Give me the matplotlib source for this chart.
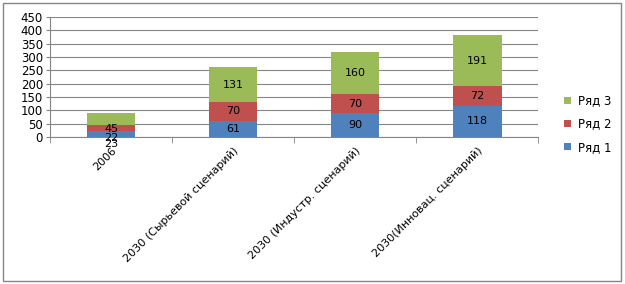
import numpy as np
import matplotlib
matplotlib.use('Agg')
import matplotlib.pyplot as plt
from matplotlib.patches import Rectangle

font = {'family': 'DejaVu Sans',
        'weight': 'normal',
        'size': 8}
matplotlib.rc('font', **font)

categories = ['2006',
              '2030 (Сырьевой сценарий)',
              '2030 (Индустр. сценарий)',
              '2030(Инновац. сценарий)']
row1 = [23, 61, 90, 118]
row2 = [22, 70, 70, 72]
row3 = [45, 131, 160, 191]
series_names = ['Ряд 1', 'Ряд 2', 'Ряд 3']
colors = ['#4F81BD', '#C0504D', '#9BBB59']

fig = plt.figure(figsize=(6.25, 2.84), dpi=100)
ax = fig.add_axes([0.08, 0.5176, 0.781, 0.4225])

x = np.arange(len(categories))
bottom = np.zeros(len(categories))
bars = []
for vals, name, col in zip([row1, row2, row3], series_names, colors):
    b = ax.bar(x, vals, width=0.4, bottom=bottom, color=col, label=name, zorder=3)
    bars.append(b)
    # value labels in the middle of each segment
    for i, v in enumerate(vals):
        yc = bottom[i] + v / 2
        dy = -7 if i == 0 else 0   # first bar: labels pushed down like the original
        ax.annotate(str(v), (x[i], yc), xytext=(0, dy), textcoords='offset points',
                    ha='center', va='center', fontsize=8, color='black', zorder=4)
    bottom += np.array(vals)

ax.set_xlim(-0.5, len(categories) - 0.5)
ax.set_ylim(0, 450)
ax.set_yticks(np.arange(0, 451, 50))
ax.yaxis.grid(True, color='#868686', linewidth=0.8, zorder=0)
ax.tick_params(axis='y', length=3, color='#868686', pad=2, labelsize=8.5)

ax.set_xticks(x)
ax.set_xticklabels(categories, rotation=45, ha='right', rotation_mode='anchor', fontsize=8)
ax.tick_params(axis='x', which='major', length=0, pad=6)
ax.set_xticks(np.arange(-0.5, len(categories)), minor=True)
ax.tick_params(axis='x', which='minor', length=4, color='#868686')

for s in ['top', 'right']:
    ax.spines[s].set_visible(False)
for s in ['left', 'bottom']:
    ax.spines[s].set_color('#868686')

handles = [bars[2], bars[1], bars[0]]
labels = ['Ряд 3', 'Ряд 2', 'Ряд 1']
fig.legend(handles, labels, loc='center left', bbox_to_anchor=(0.885, 0.563),
           frameon=False, handlelength=0.6, handleheight=0.6, handletextpad=0.6,
           labelspacing=0.85, fontsize=8.5)

fig.patches.append(Rectangle((0.004, 0.01), 0.99, 0.98, transform=fig.transFigure,
                             fill=False, edgecolor='#868686', linewidth=1))

fig.savefig('out.png', dpi=100)
